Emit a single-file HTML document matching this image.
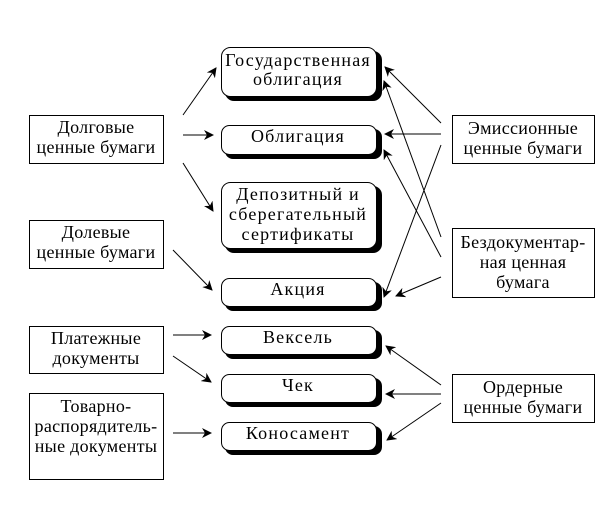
<!DOCTYPE html>
<html><head><meta charset="utf-8"><style>
html,body{margin:0;padding:0;background:#fff;}
svg{display:block;}
</style></head><body>
<svg width="614" height="518" viewBox="0 0 614 518" xmlns="http://www.w3.org/2000/svg">
<defs>
<marker id="a" markerWidth="10" markerHeight="10" refX="9" refY="5" orient="auto" markerUnits="userSpaceOnUse">
<path d="M0,0 L10,5 L0,10 L3,5 Z" fill="#000"/></marker>
</defs>
<g fill="#000">
<rect x="225" y="51" width="157" height="50" rx="9"/>
<rect x="225" y="129" width="157" height="30" rx="8"/>
<rect x="225" y="186" width="157" height="67" rx="9"/>
<rect x="225" y="282" width="157" height="29" rx="8"/>
<rect x="225" y="330" width="157" height="29" rx="8"/>
<rect x="225" y="378" width="157" height="29" rx="8"/>
<rect x="225" y="426" width="157" height="29" rx="8"/>
</g>
<g fill="#fff" stroke="#000" stroke-width="1">
<rect x="221.5" y="47.5" width="155" height="49" rx="9"/>
<rect x="221.5" y="125.5" width="155" height="29" rx="8"/>
<rect x="221.5" y="182.5" width="155" height="66" rx="9"/>
<rect x="221.5" y="278.5" width="155" height="28" rx="8"/>
<rect x="221.5" y="326.5" width="155" height="28" rx="8"/>
<rect x="221.5" y="374.5" width="155" height="28" rx="8"/>
<rect x="221.5" y="422.5" width="155" height="28" rx="8"/>
<rect x="29.5" y="115.5" width="134" height="48"/>
<rect x="29.5" y="220.5" width="134" height="48"/>
<rect x="29.5" y="326.5" width="134" height="47"/>
<rect x="29.5" y="393.5" width="134" height="86"/>
<rect x="452.5" y="115.5" width="142" height="48"/>
<rect x="452.5" y="228.5" width="142" height="69"/>
<rect x="452.5" y="374.5" width="142" height="48"/>
</g>
<g font-family="Liberation Serif, DejaVu Serif, serif" font-size="18" text-anchor="middle" fill="#000" letter-spacing="1.2">
<text x="298" y="66">Государственная</text>
<text x="298" y="85">облигация</text>
<text x="298" y="142">Облигация</text>
<text x="298" y="200">Депозитный и</text>
<text x="298" y="220">сберегательный</text>
<text x="298" y="240">сертификаты</text>
<text x="298" y="295">Акция</text>
<text x="298" y="343">Вексель</text>
<text x="298" y="391">Чек</text>
<text x="298" y="439">Коносамент</text>
</g>
<g font-family="Liberation Serif, DejaVu Serif, serif" font-size="18" text-anchor="middle" fill="#000" letter-spacing="0.3">
<text x="96" y="133">Долговые</text>
<text x="96" y="153">ценные бумаги</text>
<text x="96" y="238">Долевые</text>
<text x="96" y="258">ценные бумаги</text>
<text x="96" y="344">Платежные</text>
<text x="96" y="364">документы</text>
<text x="96" y="412">Товарно-</text>
<text x="96" y="432">распорядитель-</text>
<text x="96" y="452">ные документы</text>
<text x="523" y="134">Эмиссионные</text>
<text x="523" y="154">ценные бумаги</text>
<text x="523" y="248">Бездокументар-</text>
<text x="523" y="268">ная ценная</text>
<text x="523" y="288">бумага</text>
<text x="523" y="393">Ордерные</text>
<text x="523" y="413">ценные бумаги</text>
</g>
<g stroke="#000" stroke-width="1" marker-end="url(#a)">
<line x1="183" y1="115" x2="216" y2="68"/>
<line x1="183" y1="135" x2="213" y2="135"/>
<line x1="183" y1="163" x2="213" y2="211"/>
<line x1="173" y1="250" x2="212" y2="290"/>
<line x1="173" y1="335" x2="211" y2="335"/>
<line x1="173" y1="356" x2="211" y2="382"/>
<line x1="173" y1="433" x2="211" y2="433"/>
<line x1="441" y1="123" x2="385" y2="67"/>
<line x1="441" y1="134" x2="385" y2="134"/>
<line x1="441" y1="145" x2="384" y2="297"/>
<line x1="441" y1="237" x2="384" y2="81"/>
<line x1="441" y1="257" x2="384" y2="150"/>
<line x1="441" y1="277" x2="396" y2="296"/>
<line x1="441" y1="385" x2="386" y2="346"/>
<line x1="441" y1="394" x2="386" y2="394"/>
<line x1="441" y1="403" x2="387" y2="440"/>
</g>
</svg>
</body></html>
